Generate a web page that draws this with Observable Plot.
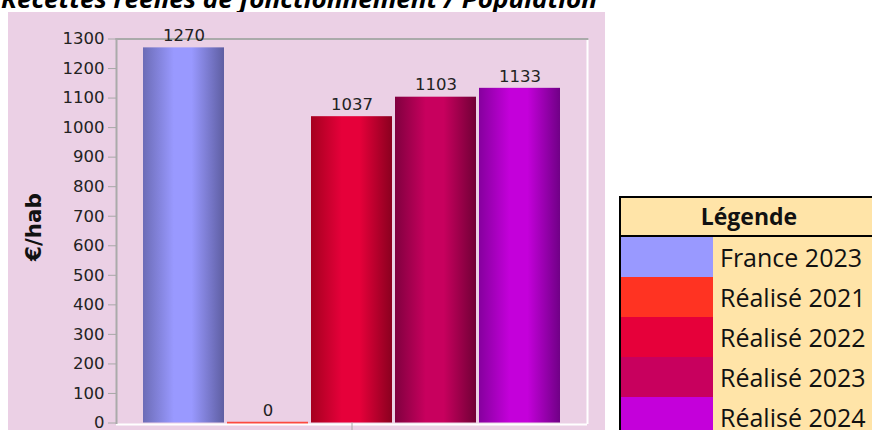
<!DOCTYPE html>
<html>
<head>
<meta charset="utf-8">
<script src="https://cdn.jsdelivr.net/npm/d3@7"></script>
<script src="https://cdn.jsdelivr.net/npm/@observablehq/plot@0.6"></script>
<style>
  html, body { margin: 0; padding: 0; background: #ffffff; }
  #wrap { position: relative; width: 872px; height: 430px; overflow: hidden; background: #ffffff; }
  #panel { position: absolute; left: 8px; top: 12px; width: 597px; height: 430px; background: #EBD0E5; }
  #chart { position: absolute; left: 0; top: 0; }
  #title { position: absolute; left: 0; top: 0; }
  #legend {
    position: absolute; left: 619px; top: 196px; width: 260px;
    border: 2px solid #000; border-spacing: 0; border-collapse: separate;
    background: #FFE4A8; font-family: "Open Sans", sans-serif; color: #111;
  }
  #legend th {
    height: 37px; padding: 0; border-bottom: 2px solid #000;
    font-weight: bold; font-size: 23px; text-align: center; line-height: 37px;
  }
  #legend td { height: 40px; padding: 0; font-size: 25px; line-height: 40px; white-space: nowrap; }
  #legend td.sw { width: 92px; }
  #legend td.lb { padding-left: 7px; }
</style>
</head>
<body>
<div id="wrap">
  <svg id="title" width="872" height="14" xmlns="http://www.w3.org/2000/svg"></svg>
  <div id="panel"></div>
  <div id="chart"></div>
  <table id="legend"></table>
</div>
<script>
// ---- data ----
const titleText = "Recettes réelles de fonctionnement / Population";
const yLabel = "€/hab";
const legendTitle = "Légende";
const categories = ["France 2023", "Réalisé 2021", "Réalisé 2022", "Réalisé 2023", "Réalisé 2024"];
const values = [1270, 0, 1037, 1103, 1133];
const yTicks = [0, 100, 200, 300, 400, 500, 600, 700, 800, 900, 1000, 1100, 1200, 1300];
// ---- palette ----
const colors = ["#9999FF", "#FF3322", "#E6003A", "#C8005E", "#C400DA"];
const edgeLeft = ["#6C6CB6", "#C0302A", "#A5001F", "#80003F", "#86009E"];
const edgeRight = ["#5E5EA2", "#A82A24", "#8A001F", "#700036", "#700086"];

const ns = "http://www.w3.org/2000/svg";

// title
const tsvg = document.getElementById("title");
const tt = document.createElementNS(ns, "text");
tt.setAttribute("x", 1);
tt.setAttribute("y", 7.5);
tt.setAttribute("textLength", 596);
tt.setAttribute("lengthAdjust", "spacingAndGlyphs");
tt.setAttribute("font-family", "'Open Sans', sans-serif");
tt.setAttribute("font-weight", "bold");
tt.setAttribute("font-style", "italic");
tt.setAttribute("font-size", "25");
tt.setAttribute("fill", "#000");
tt.textContent = titleText;
tsvg.appendChild(tt);

const data = categories.map((c, i) => ({cat: c, value: values[i], grad: `url(#grad${i})`, color: colors[i]}));

const chart = Plot.plot({
  width: 608,
  height: 431,
  marginLeft: 116,
  marginRight: 21,
  marginTop: 38.5,
  marginBottom: 8.5,
  style: {background: "transparent", fontFamily: "'DejaVu Sans', Verdana, sans-serif", fontSize: "16.5px", color: "#222", overflow: "visible"},
  x: {domain: categories, paddingInner: 0.03, paddingOuter: 0.3, axis: null},
  y: {domain: [0, 1300], axis: null},
  color: {type: "identity"},
  marks: [
    Plot.barY(data, {x: "cat", y: "value", fill: "grad"}),
    Plot.tickY(data.filter(d => d.value === 0), {x: "cat", y: "value", stroke: "color", strokeWidth: 2.5, strokeOpacity: 0.85}),
    Plot.ruleY([0], {stroke: "#FFFFFF", strokeWidth: 2, dy: 1.5}),
    Plot.frame({anchor: "right", stroke: "#FFFFFF", strokeWidth: 2}),
    Plot.frame({anchor: "top", stroke: "#AAAAAA", strokeWidth: 2}),
    Plot.frame({anchor: "left", stroke: "#AAAAAA", strokeWidth: 2}),
    Plot.axisY({ticks: yTicks, tickSize: 8, tickPadding: 4, tickFormat: d => String(d), stroke: "#A8A8A8", fill: "#222", fontSize: 16.5, label: null}),
    Plot.axisX({ticks: [categories[2]], tickSize: 8, tickFormat: () => "", stroke: "#A8A8A8", label: null}),
    Plot.text(data, {x: "cat", y: "value", text: d => String(d.value), dy: -12, fill: "#222", fontSize: 16.5}),
    Plot.text([yLabel], {frameAnchor: "left", textAnchor: "middle", text: d => d, rotate: -90, dx: -82, dy: -4, fontSize: 21.5, fontWeight: "bold", fill: "#111"})
  ]
});

// gradients
const defs = document.createElementNS(ns, "defs");
categories.forEach((c, i) => {
  const g = document.createElementNS(ns, "linearGradient");
  g.setAttribute("id", `grad${i}`);
  g.setAttribute("x1", "0"); g.setAttribute("x2", "1"); g.setAttribute("y1", "0"); g.setAttribute("y2", "0");
  [[0, edgeLeft[i]], [0.38, colors[i]], [0.6, colors[i]], [1, edgeRight[i]]].forEach(([o, col]) => {
    const s = document.createElementNS(ns, "stop");
    s.setAttribute("offset", o);
    s.setAttribute("stop-color", col);
    g.appendChild(s);
  });
  defs.appendChild(g);
});
chart.insertBefore(defs, chart.firstChild);
document.getElementById("chart").appendChild(chart);

// legend
const table = document.getElementById("legend");
const hr = document.createElement("tr");
const th = document.createElement("th");
th.colSpan = 2;
th.textContent = legendTitle;
hr.appendChild(th);
table.appendChild(hr);
categories.forEach((c, i) => {
  const tr = document.createElement("tr");
  const sw = document.createElement("td");
  sw.className = "sw";
  sw.style.background = colors[i];
  const lb = document.createElement("td");
  lb.className = "lb";
  lb.textContent = c;
  tr.appendChild(sw);
  tr.appendChild(lb);
  table.appendChild(tr);
});
</script>
</body>
</html>
